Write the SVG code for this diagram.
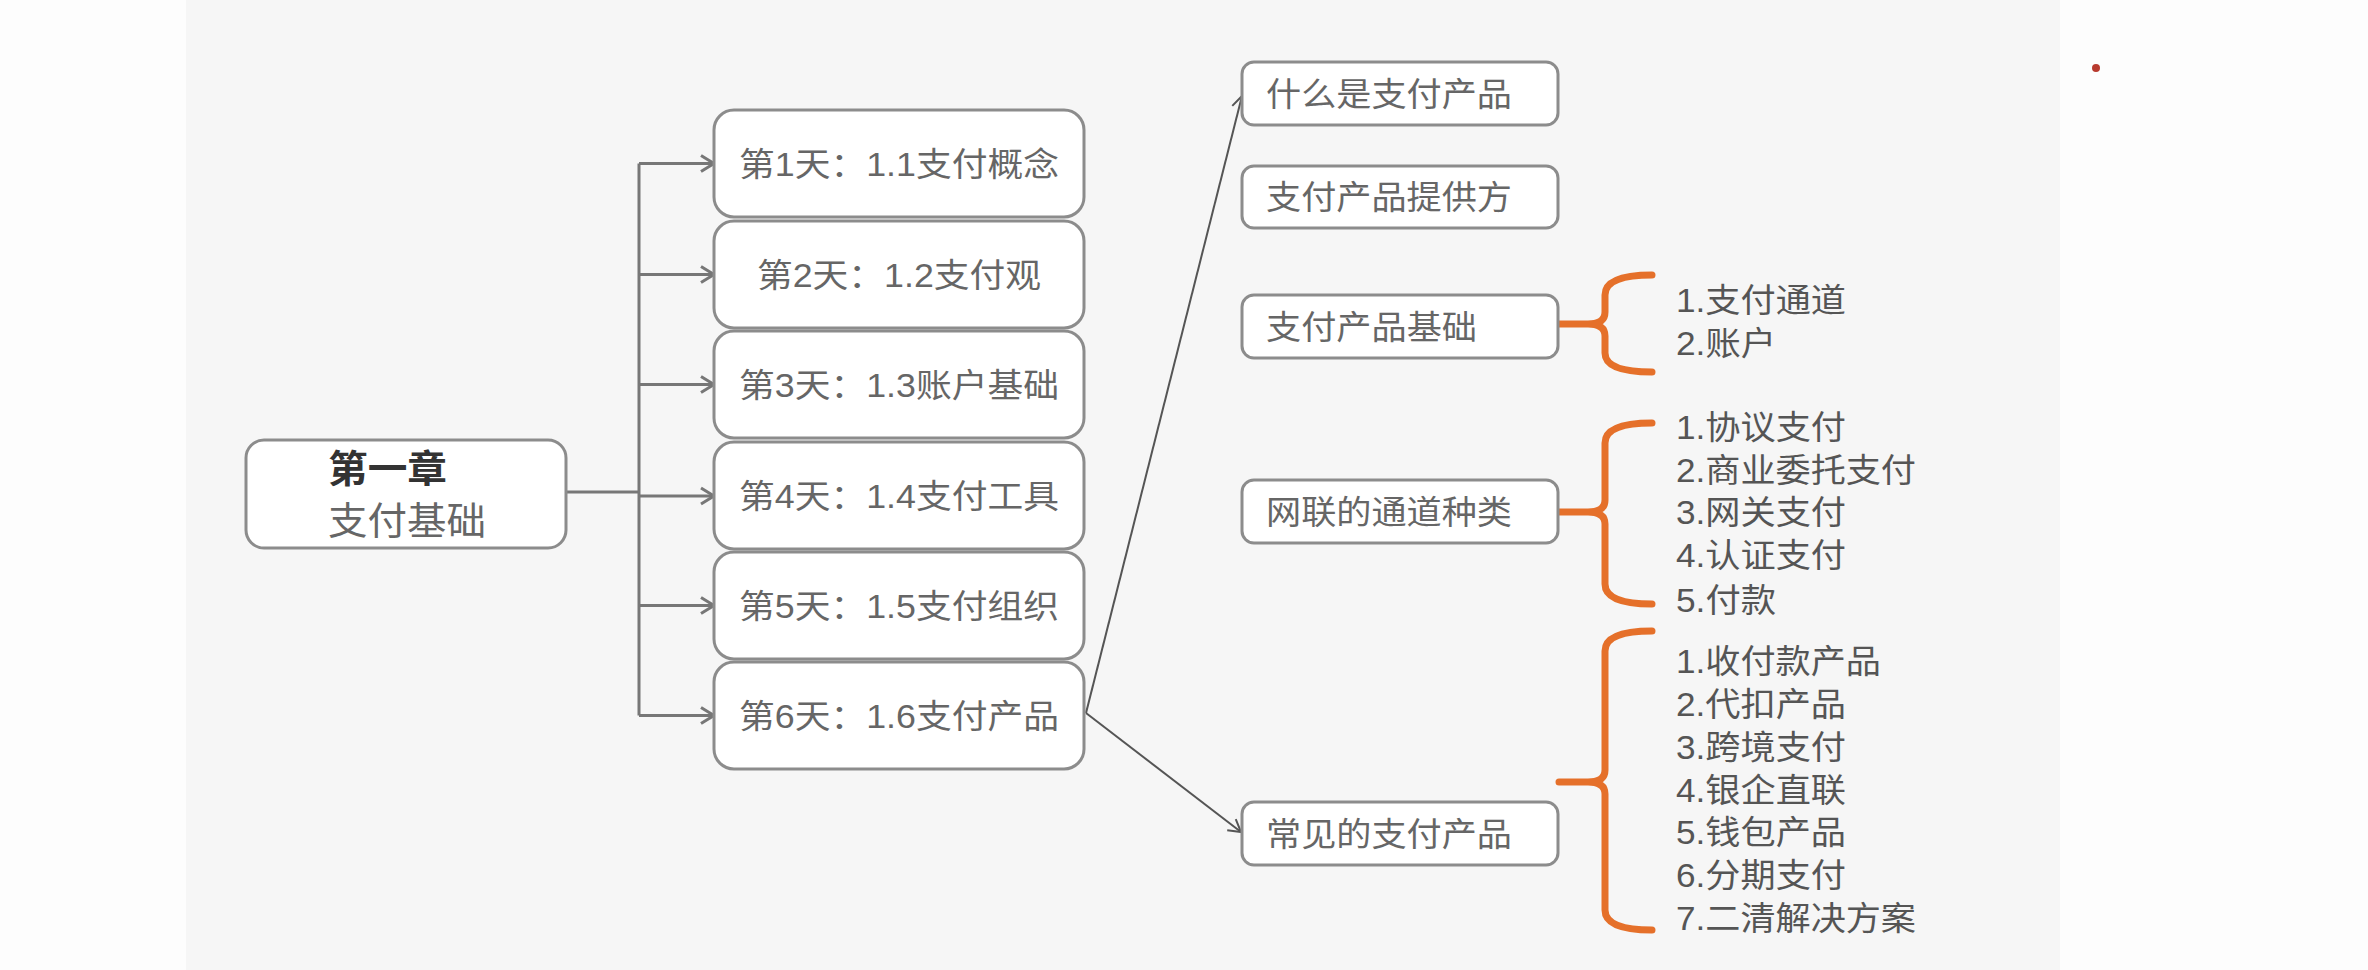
<svg xmlns="http://www.w3.org/2000/svg" width="2368" height="970" viewBox="0 0 2368 970">
  <defs>
    <style>
      .t { font-family: "Liberation Sans", "Noto Sans CJK SC", sans-serif; }
      .day { font-size: 33px; fill: #666; }
      .sub { font-size: 33px; fill: #666; }
      .li { font-size: 33px; fill: #555; }
      .box { fill: #ffffff; stroke: #8c8c8c; stroke-width: 3; }
      .conn { fill: none; stroke: #777; stroke-width: 3; }
      .thin { fill: none; stroke: #555; stroke-width: 2; }
      .brace { fill: none; stroke: #E5702A; stroke-width: 7; stroke-linecap: round; stroke-linejoin: round; }
    </style>
    <marker id="arr" markerUnits="userSpaceOnUse" markerWidth="20" markerHeight="20" refX="16" refY="10" orient="auto">
      <path d="M3,2 L16,10 L3,18" fill="none" stroke="#777" stroke-width="3"/>
    </marker>
    <marker id="arrThin" markerUnits="userSpaceOnUse" markerWidth="20" markerHeight="20" refX="16" refY="10" orient="auto">
      <path d="M4,3 L16,10 L4,17" fill="none" stroke="#555" stroke-width="2"/>
    </marker>
  </defs>

  <rect x="0" y="0" width="2368" height="970" fill="#fdfdfd"/>
  <rect x="186" y="0" width="1874" height="970" fill="#f6f6f6"/>
  <circle cx="2096" cy="68" r="4" fill="#B83A2E"/>

  <g id="connectors">
    <line class="conn" x1="566" y1="492" x2="639" y2="492"/>
    <line class="conn" x1="639" y1="163.5" x2="639" y2="715.5"/>
    <line class="conn" x1="639" y1="163.5" x2="714" y2="163.5" marker-end="url(#arr)"/>
    <line class="conn" x1="639" y1="274.5" x2="714" y2="274.5" marker-end="url(#arr)"/>
    <line class="conn" x1="639" y1="384.5" x2="714" y2="384.5" marker-end="url(#arr)"/>
    <line class="conn" x1="639" y1="496" x2="714" y2="496" marker-end="url(#arr)"/>
    <line class="conn" x1="639" y1="605.5" x2="714" y2="605.5" marker-end="url(#arr)"/>
    <line class="conn" x1="639" y1="715.5" x2="714" y2="715.5" marker-end="url(#arr)"/>
    <line class="thin" x1="1086" y1="713" x2="1242" y2="96" marker-end="url(#arrThin)"/>
    <line class="thin" x1="1086" y1="713" x2="1241" y2="832" marker-end="url(#arrThin)"/>
  </g>

  <g id="braces">
    <path class="brace" d="M1652,275 Q1605,275 1605,295 L1605,312 Q1605,324 1588,324 L1559,324 M1588,324 Q1605,324 1605,336 L1605,353 Q1605,372 1652,372"/>
    <path class="brace" d="M1652,423 Q1605,423 1605,443 L1605,500 Q1605,512 1588,512 L1559,512 M1588,512 Q1605,512 1605,524 L1605,584 Q1605,604 1652,604"/>
    <path class="brace" d="M1652,631 Q1605,631 1605,651 L1605,770 Q1605,782 1588,782 L1559,782 M1588,782 Q1605,782 1605,794 L1605,910 Q1605,930 1652,930"/>
  </g>

  <g id="chapter">
    <rect class="box" x="246" y="440" width="320" height="108" rx="18"/>
    <text class="t" x="328" y="482" font-size="38" font-weight="bold" fill="#333" textLength="119" lengthAdjust="spacingAndGlyphs">第一章</text>
    <text class="t" x="328" y="534" font-size="38" fill="#666" textLength="158" lengthAdjust="spacingAndGlyphs">支付基础</text>
  </g>

  <g id="day1">
    <rect class="box" x="714" y="110" width="370" height="107" rx="20"/>
    <text class="t day" x="899" y="176" text-anchor="middle" textLength="320" lengthAdjust="spacingAndGlyphs">第1天：1.1支付概念</text>
  </g>
  <g id="day2">
    <rect class="box" x="714" y="221" width="370" height="107" rx="20"/>
    <text class="t day" x="899" y="287" text-anchor="middle" textLength="284" lengthAdjust="spacingAndGlyphs">第2天：1.2支付观</text>
  </g>
  <g id="day3">
    <rect class="box" x="714" y="331" width="370" height="107" rx="20"/>
    <text class="t day" x="899" y="397" text-anchor="middle" textLength="320" lengthAdjust="spacingAndGlyphs">第3天：1.3账户基础</text>
  </g>
  <g id="day4">
    <rect class="box" x="714" y="442" width="370" height="107" rx="20"/>
    <text class="t day" x="899" y="508" text-anchor="middle" textLength="320" lengthAdjust="spacingAndGlyphs">第4天：1.4支付工具</text>
  </g>
  <g id="day5">
    <rect class="box" x="714" y="552" width="370" height="107" rx="20"/>
    <text class="t day" x="899" y="618" text-anchor="middle" textLength="320" lengthAdjust="spacingAndGlyphs">第5天：1.5支付组织</text>
  </g>
  <g id="day6">
    <rect class="box" x="714" y="662" width="370" height="107" rx="20"/>
    <text class="t day" x="899" y="728" text-anchor="middle" textLength="320" lengthAdjust="spacingAndGlyphs">第6天：1.6支付产品</text>
  </g>

  <g id="what">
    <rect class="box" x="1242" y="62" width="316" height="63" rx="12"/>
    <text class="t sub" x="1266" y="106" textLength="246" lengthAdjust="spacingAndGlyphs">什么是支付产品</text>
  </g>
  <g id="provider">
    <rect class="box" x="1242" y="166" width="316" height="62" rx="12"/>
    <text class="t sub" x="1266" y="209" textLength="246" lengthAdjust="spacingAndGlyphs">支付产品提供方</text>
  </g>
  <g id="basis">
    <rect class="box" x="1242" y="295" width="316" height="63" rx="12"/>
    <text class="t sub" x="1266" y="339" textLength="211" lengthAdjust="spacingAndGlyphs">支付产品基础</text>
  </g>
  <g id="channels">
    <rect class="box" x="1242" y="480" width="316" height="63" rx="12"/>
    <text class="t sub" x="1266" y="524" textLength="246" lengthAdjust="spacingAndGlyphs">网联的通道种类</text>
  </g>
  <g id="common">
    <rect class="box" x="1242" y="802" width="316" height="63" rx="12"/>
    <text class="t sub" x="1266" y="846" textLength="246" lengthAdjust="spacingAndGlyphs">常见的支付产品</text>
  </g>

  <g id="list-basis">
    <text class="t li" x="1676" y="312" textLength="170" lengthAdjust="spacingAndGlyphs">1.支付通道</text>
    <text class="t li" x="1676" y="355" textLength="100" lengthAdjust="spacingAndGlyphs">2.账户</text>
  </g>
  <g id="list-channels">
    <text class="t li" x="1676" y="439" textLength="170" lengthAdjust="spacingAndGlyphs">1.协议支付</text>
    <text class="t li" x="1676" y="482" textLength="240" lengthAdjust="spacingAndGlyphs">2.商业委托支付</text>
    <text class="t li" x="1676" y="524" textLength="170" lengthAdjust="spacingAndGlyphs">3.网关支付</text>
    <text class="t li" x="1676" y="567" textLength="170" lengthAdjust="spacingAndGlyphs">4.认证支付</text>
    <text class="t li" x="1676" y="612" textLength="100" lengthAdjust="spacingAndGlyphs">5.付款</text>
  </g>
  <g id="list-common">
    <text class="t li" x="1676" y="673" textLength="205" lengthAdjust="spacingAndGlyphs">1.收付款产品</text>
    <text class="t li" x="1676" y="716" textLength="170" lengthAdjust="spacingAndGlyphs">2.代扣产品</text>
    <text class="t li" x="1676" y="759" textLength="170" lengthAdjust="spacingAndGlyphs">3.跨境支付</text>
    <text class="t li" x="1676" y="802" textLength="170" lengthAdjust="spacingAndGlyphs">4.银企直联</text>
    <text class="t li" x="1676" y="844" textLength="170" lengthAdjust="spacingAndGlyphs">5.钱包产品</text>
    <text class="t li" x="1676" y="887" textLength="170" lengthAdjust="spacingAndGlyphs">6.分期支付</text>
    <text class="t li" x="1676" y="930" textLength="240" lengthAdjust="spacingAndGlyphs">7.二清解决方案</text>
  </g>
</svg>
